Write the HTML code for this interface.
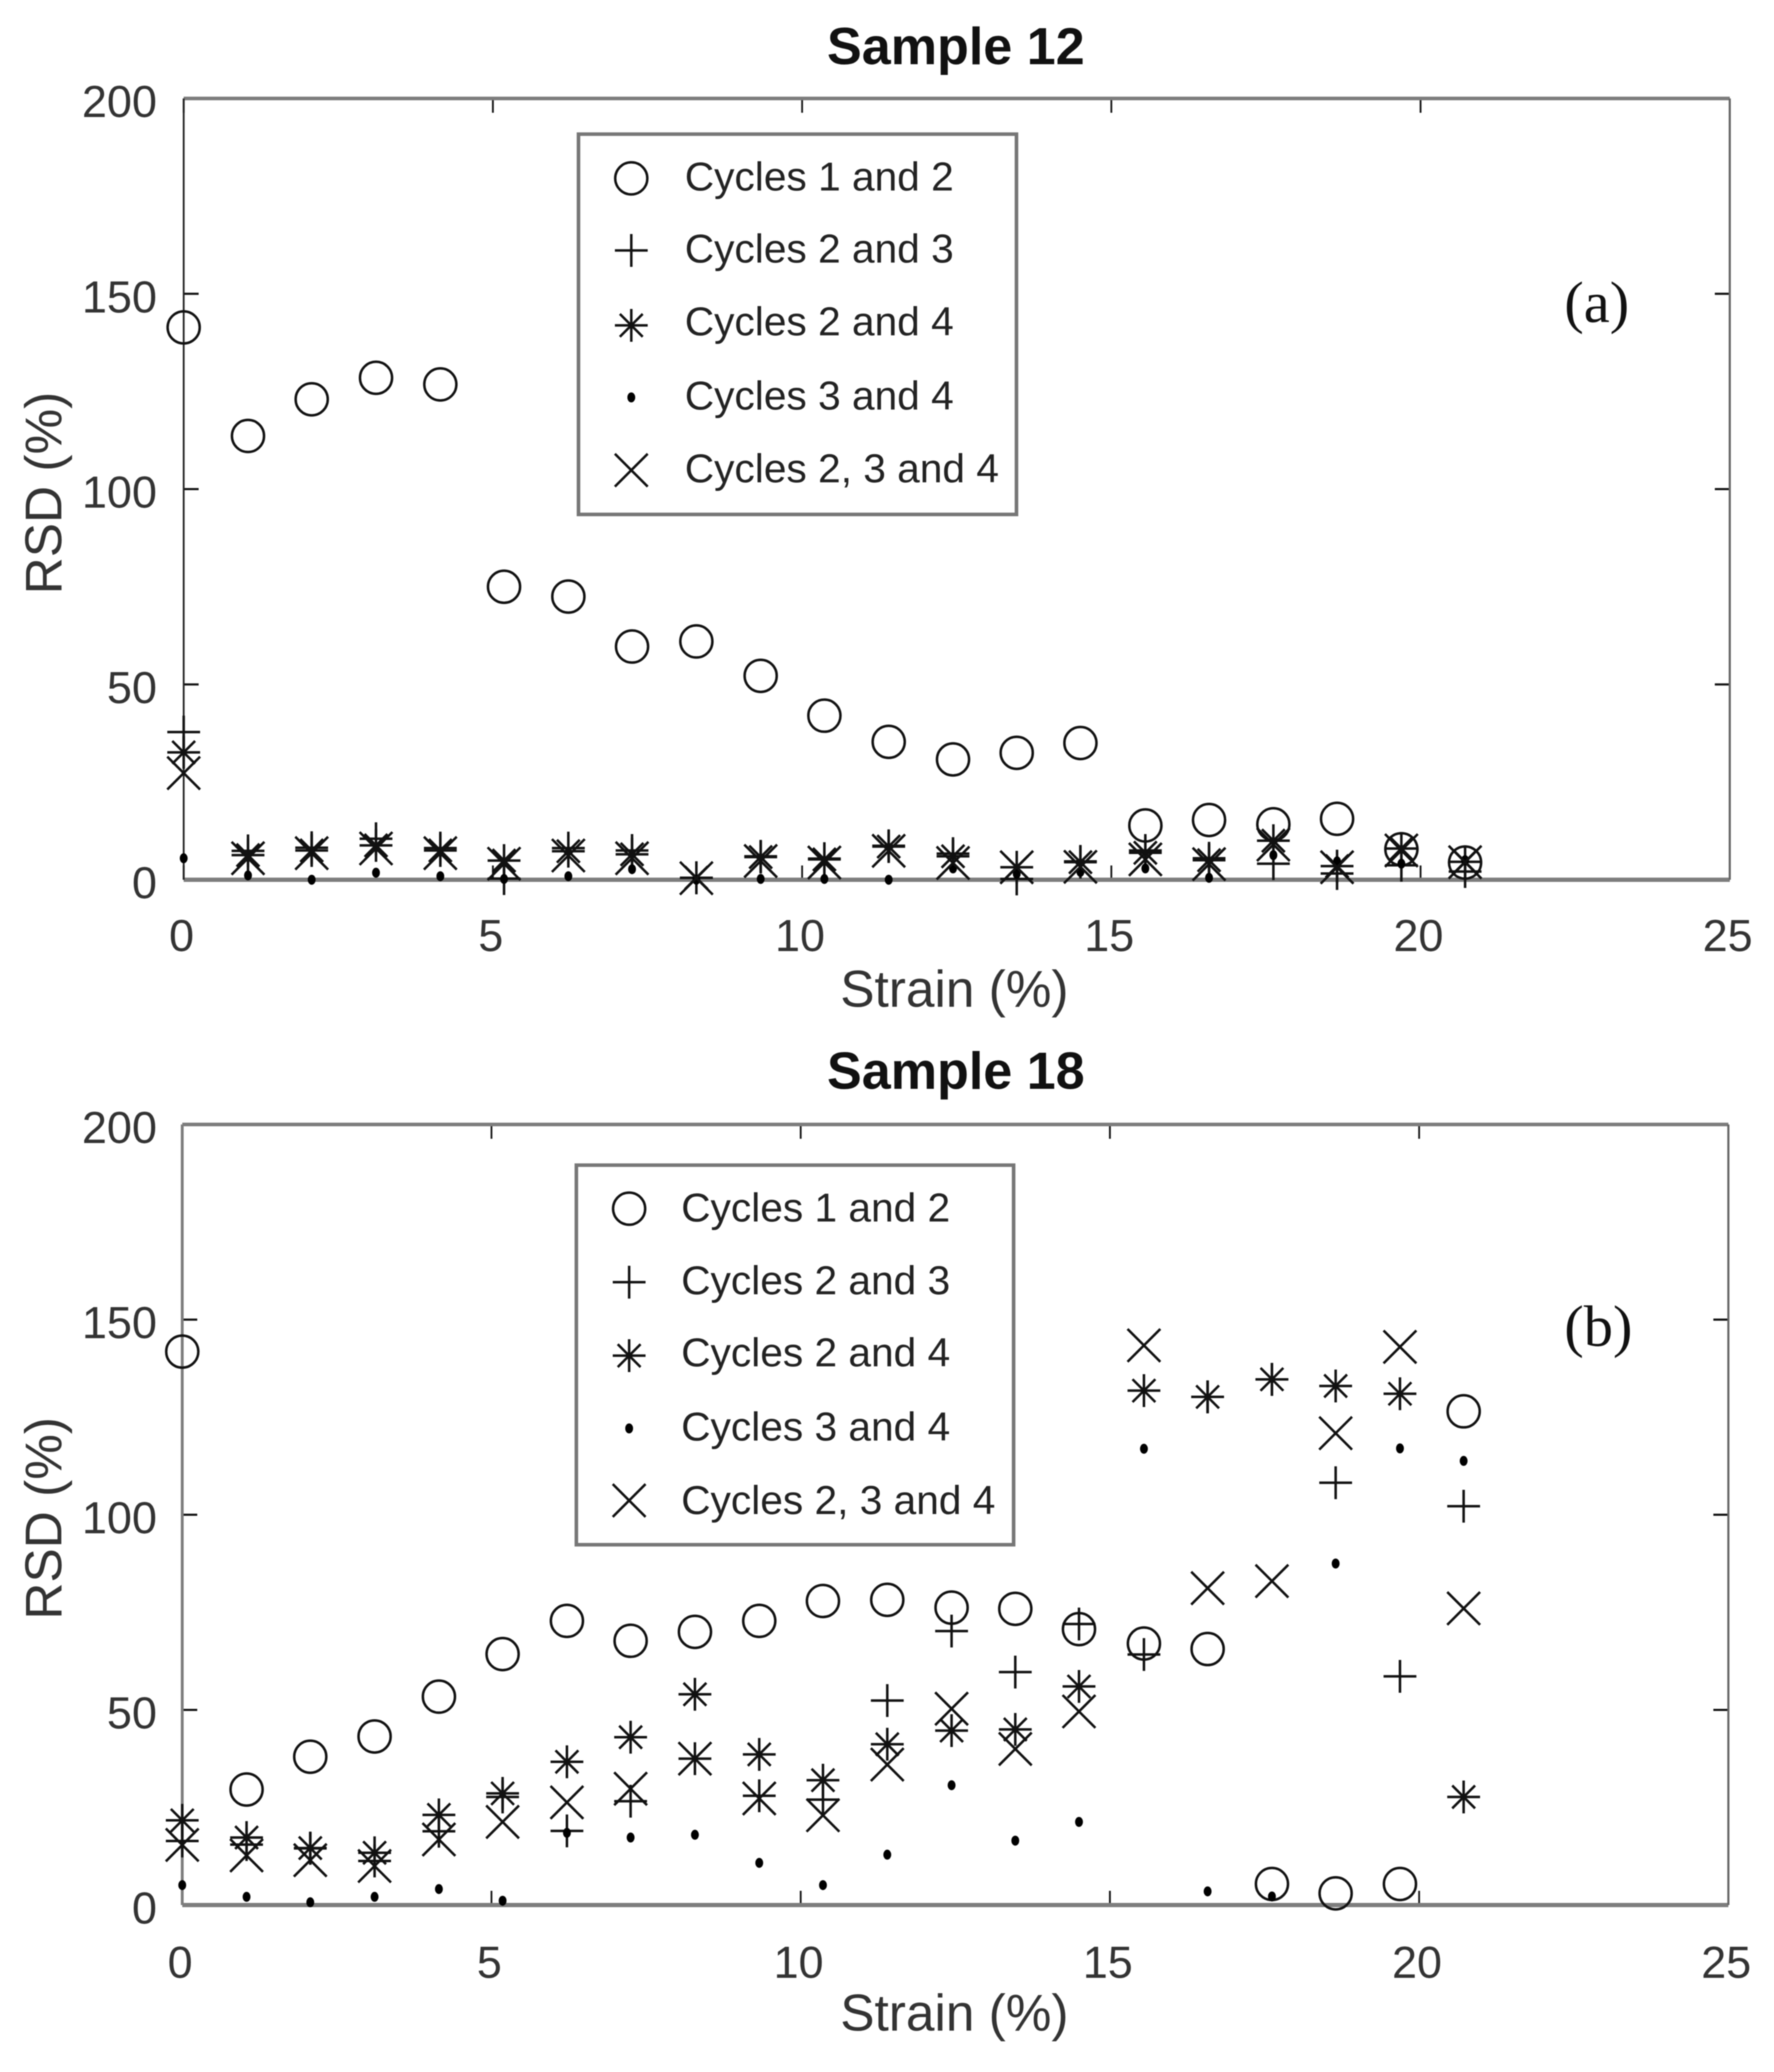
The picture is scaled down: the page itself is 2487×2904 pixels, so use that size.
<!DOCTYPE html>
<html lang="en">
<head>
<meta charset="utf-8">
<title>RSD vs Strain</title>
<style>
html,body{margin:0;padding:0;background:#fff;width:2487px;height:2904px;overflow:hidden}
svg{display:block;filter:blur(0.7px)}
text{font-family:"Liberation Sans",sans-serif;fill:#2b2b2b}
.title{font-size:73px;font-weight:bold;fill:#111;text-anchor:middle}
.axlab{font-size:72px;text-anchor:middle;fill:#333}
.tick{font-size:63px;fill:#333}
.leg{font-size:57px;fill:#222}
.tag{font-family:"Liberation Serif",serif;font-size:82px;fill:#111}
.frame{fill:none;stroke:#8a8a8a}
</style>
</head>
<body>
<svg id="chart" xmlns="http://www.w3.org/2000/svg" width="2487" height="2904" viewBox="0 0 2487 2904">
  <rect width="2487" height="2904" fill="#fff"/>
  <g id="panel-a">
    <text class="title" x="1340" y="90">Sample 12</text>
    <text class="axlab" x="1338" y="1411">Strain (%)</text>
    <text class="axlab" transform="translate(86,691) rotate(-90)">RSD (%)</text>
    <text class="tag" x="2193" y="451">(a)</text>
  </g>
  <g id="panel-b">
    <text class="title" x="1340" y="1526">Sample 18</text>
    <text class="axlab" x="1338" y="2846">Strain (%)</text>
    <text class="axlab" transform="translate(86,2128) rotate(-90)">RSD (%)</text>
    <text class="tag" x="2193" y="1886">(b)</text>
  </g>
</svg>
<script>
var strainValues = [0,1.04,2.07,3.11,4.15,5.18,6.22,7.25,8.29,9.33,10.36,11.4,12.44,13.47,14.5,15.55,16.58,17.62,18.65,19.69,20.72];
var xTickValues = [0,5,10,15,20,25];
var yTickValues = [0,50,100,150,200];
var legendLabels = ["Cycles 1 and 2","Cycles 2 and 3","Cycles 2 and 4","Cycles 3 and 4","Cycles 2, 3 and 4"];

var a12Values = [141.4,113.6,123,128.5,126.8,75,72.5,59.7,61,52.2,42,35.3,30.8,32.5,35,13.9,15.3,14.2,15.6,7.8,4.4];
var a23Values = [37.8,7.4,8.2,10.5,8.1,0.3,8.1,7.5,0.5,6,5.4,8.7,6.7,0.2,4.7,7.5,5.5,4.1,1.6,3.7,2.1];
var a24Values = [32.6,6.3,7.5,8.8,7.5,4.9,7.3,6.5,0.5,5.8,5.2,8.5,6,3.2,4.5,6.9,5,10,3.5,8,4.6];
var a34Values = [5.5,1.1,0,1.8,0.9,0.2,0.9,2.7,0,0.2,0.2,0,2.9,1.5,2,2.9,0.5,6.3,4.7,4.1,5];
var a234Values = [27.3,5.5,6.8,8,6.8,4.1,6.2,5.5,0.4,4.8,4.4,7.4,4.3,3.2,3.3,5.2,4,9,3.2,7.5,4.5];

var b12Values = [141.8,29.6,38,43.2,53.4,64.3,72.8,67.7,70,72.8,77.9,78.2,76.2,75.9,70.7,67,65.6,5.4,3,5.4,126.5];
var b23Values = [16.4,15.5,14.5,11.3,18.9,27.7,19,26.6,37.5,28,27,52.4,70.2,59.7,72,64.2,130.2,134.7,108.2,58.6,102.2];
var b24Values = [21.7,17.3,14.6,13.4,23.1,28.6,36.7,43,54,38.6,32,41.2,44.7,45,56,131.8,130.2,134.7,133,131,27.7];
var b34Values = [5.1,2.1,0.7,2.1,4.1,1.1,18.5,17.3,18,10.8,5.1,12.9,30.7,16.5,21.3,116.9,3.5,2.2,87.5,117,113.8];
var b234Values = [15.4,12.7,11.5,10,16.8,21.3,26.3,29.8,37.5,27.3,23,36,50.3,40,49.6,143.4,81.2,83,120.9,143,76];

var NS = 'http://www.w3.org/2000/svg';
var INK = '#111';

function make(tag, attrs, parent) {
  var el = document.createElementNS(NS, tag);
  for (var k in attrs) el.setAttribute(k, attrs[k]);
  parent.appendChild(el);
  return el;
}

function pathFor(cx, cy, kind) {
  var r = 23, d = 16;
  var plus = 'M' + (cx - r) + ' ' + cy + 'H' + (cx + r) + 'M' + cx + ' ' + (cy - r) + 'V' + (cy + r);
  if (kind === 'plus') return plus;
  if (kind === 'cross') {
    return 'M' + (cx - r) + ' ' + (cy - r) + 'L' + (cx + r) + ' ' + (cy + r) +
           'M' + (cx - r) + ' ' + (cy + r) + 'L' + (cx + r) + ' ' + (cy - r);
  }
  return plus + 'M' + (cx - d) + ' ' + (cy - d) + 'L' + (cx + d) + ' ' + (cy + d) +
         'M' + (cx - d) + ' ' + (cy + d) + 'L' + (cx + d) + ' ' + (cy - d);
}

function drawMarker(parent, kind, cx, cy, name) {
  var el;
  if (kind === 'circle') {
    el = make('circle', {cx: cx, cy: cy, r: 22.5, fill: 'none', stroke: INK, 'stroke-width': 3.5}, parent);
  } else if (kind === 'dot') {
    el = make('ellipse', {cx: cx, cy: cy, rx: 5.5, ry: 7, fill: '#000'}, parent);
  } else {
    el = make('path', {d: pathFor(cx, cy, kind), fill: 'none', stroke: INK, 'stroke-width': 3.5}, parent);
  }
  
  
  return el;
}

function drawPanel(cfg) {
  var root = document.getElementById(cfg.id);
  var sx = function (v) { return cfg.left + (v / 25) * (cfg.right - cfg.left); };
  var sy = function (v) { return cfg.bottom - (v / 200) * (cfg.bottom - cfg.top); };

  var ax = make('g', {}, root);
  
  

  xTickValues.forEach(function (t) {
    var x = sx(t);
    var tb = make('path', {d: 'M' + x + ' ' + cfg.bottom + 'v-20M' + x + ' ' + cfg.top + 'v20', stroke: '#111', 'stroke-width': 2.5, fill: 'none'}, ax);
    
    
    var lb = make('text', {'class': 'tick', x: x - 3, y: cfg.xLabelY, 'text-anchor': 'middle'}, ax);
    lb.textContent = String(t);
    
    
  });
  yTickValues.forEach(function (t) {
    var y = sy(t);
    var tl = make('path', {d: 'M' + cfg.left + ' ' + y + 'h21M' + cfg.right + ' ' + y + 'h-21', stroke: '#111', 'stroke-width': 3, fill: 'none'}, ax);
    
    
    var lb = make('text', {'class': 'tick', x: 220, y: y + 26, 'text-anchor': 'end'}, ax);
    lb.textContent = String(t);
    
    
  });

  var frameParts = [
    ['top', 'M' + cfg.left + ' ' + cfg.top + 'H' + cfg.right, '#7d7d7d', 5],
    ['bottom', 'M' + cfg.left + ' ' + cfg.bottom + 'H' + cfg.right, '#7d7d7d', 6],
    ['right', 'M' + cfg.right + ' ' + cfg.top + 'V' + cfg.bottom, '#666', 3],
    ['left', 'M' + cfg.left + ' ' + cfg.top + 'V' + cfg.bottom, cfg.leftColor, cfg.leftWidth]
  ];
  frameParts.forEach(function (p) {
    var s = make('path', {d: p[1], stroke: p[2], 'stroke-width': p[3], fill: 'none'}, ax);
    
    
  });

  cfg.series.forEach(function (s) {
    var g = make('g', {}, root);
    
    
    s.values.forEach(function (v, i) {
      drawMarker(g, s.kind, sx(strainValues[i]), sy(v), s.name + '-point');
    });
  });

  var L = cfg.legend;
  var lg = make('g', {}, root);
  
  
  var box = make('rect', {x: L.x, y: L.y, width: L.w, height: L.h, fill: '#fff', stroke: '#777', 'stroke-width': 5}, lg);
  
  
  cfg.series.forEach(function (s, i) {
    var e = make('g', {}, lg);
    
    
    drawMarker(e, s.kind, L.markerX, L.markerY[i], 'legend-marker');
    var t = make('text', {'class': 'leg', x: L.textX, y: L.textY[i]}, e);
    t.textContent = legendLabels[i];
    
    
  });
}

drawPanel({
  id: 'panel-a', tag: 'a', left: 257.5, right: 2425, top: 138, bottom: 1233,
  xLabelY: 1333, leftColor: '#222', leftWidth: 2.5,
  series: [
    {name: 'a-series-cycles-1-2', kind: 'circle', values: a12Values},
    {name: 'a-series-cycles-2-3', kind: 'plus', values: a23Values},
    {name: 'a-series-cycles-2-4', kind: 'star', values: a24Values},
    {name: 'a-series-cycles-3-4', kind: 'dot', values: a34Values},
    {name: 'a-series-cycles-2-3-4', kind: 'cross', values: a234Values}
  ],
  legend: {x: 811, y: 188, w: 614, h: 533, markerX: 885, textX: 960,
    markerY: [250, 351, 456, 557, 659], textY: [267, 368, 470, 574, 676]}
});

drawPanel({
  id: 'panel-b', tag: 'b', left: 255.5, right: 2423, top: 1576, bottom: 2670,
  xLabelY: 2772, leftColor: '#7d7d7d', leftWidth: 4,
  series: [
    {name: 'b-series-cycles-1-2', kind: 'circle', values: b12Values},
    {name: 'b-series-cycles-2-3', kind: 'plus', values: b23Values},
    {name: 'b-series-cycles-2-4', kind: 'star', values: b24Values},
    {name: 'b-series-cycles-3-4', kind: 'dot', values: b34Values},
    {name: 'b-series-cycles-2-3-4', kind: 'cross', values: b234Values}
  ],
  legend: {x: 808, y: 1633, w: 613, h: 532, markerX: 882, textX: 955,
    markerY: [1694, 1797, 1900, 2002, 2103], textY: [1712, 1814, 1915, 2019, 2122]}
});
</script>
</body>
</html>
